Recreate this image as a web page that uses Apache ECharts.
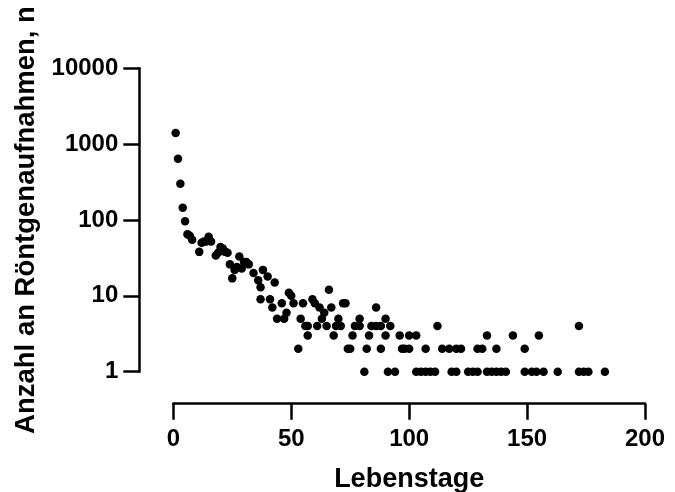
<!DOCTYPE html>
<html>
<head>
<meta charset="utf-8">
<script src="https://cdn.jsdelivr.net/npm/echarts@6/dist/echarts.min.js"></script>
<style>
html,body{margin:0;padding:0;background:#fff;}
#chart{width:675px;height:492px;}
</style>
</head>
<body>
<div id="chart"></div>
<script>
// Lebenstage (day of life) and number of radiographs per day
const days = [
  1,2,3,4,5,6,7,8,11,12,13,14,15,16,18,19,20,21,22,23,
  24,25,26,27,28,29,30,31,32,34,36,37,37,38,40,41,42,43,44,46,
  47,48,49,50,51,53,54,55,56,57,57,59,60,61,62,63,64,65,66,67,
  68,69,70,71,72,73,74,75,76,77,79,79,81,82,83,84,86,86,88,88,
  90,90,91,92,94,96,97,98,100,100,103,103,105,107,107,109,111,112,114,117,
  118,120,120,122,125,127,129,129,131,133,133,135,137,137,139,141,144,149,149,152,
  154,155,157,163,172,172,174,176,183
];
const counts = [
  1400,640,300,145,96,65,62,55,38,50,52,52,60,52,34,37,44,42,38,37,
  26,17,22,24,33,23,28,28,26,20,16,13,9,22,18,9,7,15,5,8,
  5,6,11,10,8,2,5,8,4,4,3,9,8,4,7,5,6,4,12,7,
  3,4,5,4,8,8,2,2,3,4,4,5,1,2,3,4,4,7,4,2,
  5,3,1,4,1,3,2,2,3,2,3,1,1,2,1,1,1,4,2,2,
  1,2,1,2,1,1,2,1,2,3,1,1,2,1,1,1,3,2,1,1,
  1,3,1,1,4,1,1,1,1
];
const xTickLabels = ['0','50','100','150','200'];
const yTickLabels = ['1','10','100','1000','10000'];
const xTitle = 'Lebenstage';
const yTitle = 'Anzahl an Röntgenaufnahmen, n';

const points = days.map((d, i) => [d, counts[i]]);
const font = 'Liberation Sans, Arial, sans-serif';

const chart = echarts.init(document.getElementById('chart'), null, {renderer: 'canvas'});
chart.setOption({
  backgroundColor: '#ffffff',
  animation: false,
  grid: {left: 173.3, right: 30, top: 68.3, bottom: 120.3, containLabel: false, outerBoundsMode: 'none'},
  xAxis: {
    type: 'value', min: 0, max: 200, interval: 50, offset: 32,
    name: xTitle, nameLocation: 'middle', nameGap: 62,
    nameTextStyle: {fontFamily: font, fontWeight: 'bold', fontSize: 27, color: '#000'},
    axisLine: {show: true, onZero: false, lineStyle: {color: '#000', width: 2.5}},
    axisTick: {show: true, length: 16, lineStyle: {color: '#000', width: 2.5}},
    splitLine: {show: false},
    axisLabel: {
      margin: 24, fontFamily: font, fontWeight: 'bold', fontSize: 24, color: '#000',
      formatter: v => xTickLabels[Math.round(v / 50)]
    }
  },
  yAxis: {
    type: 'log', logBase: 10, min: 1, max: 10000, offset: 34,
    name: yTitle, nameLocation: 'middle', nameRotate: 90, nameGap: 96,
    nameTextStyle: {fontFamily: font, fontWeight: 'bold', fontSize: 27.5, color: '#000'},
    axisLine: {show: true, onZero: false, lineStyle: {color: '#000', width: 2.5}},
    axisTick: {show: true, length: 16, lineStyle: {color: '#000', width: 2.5}},
    splitLine: {show: false},
    axisLabel: {
      margin: 21, fontFamily: font, fontWeight: 'bold', fontSize: 24, color: '#000',
      formatter: v => yTickLabels[Math.round(Math.log10(v))]
    }
  },
  series: [{
    type: 'scatter',
    data: points,
    symbol: 'circle',
    symbolSize: 8.5,
    itemStyle: {color: '#000', opacity: 1},
    clip: false
  }]
});
</script>
</body>
</html>
